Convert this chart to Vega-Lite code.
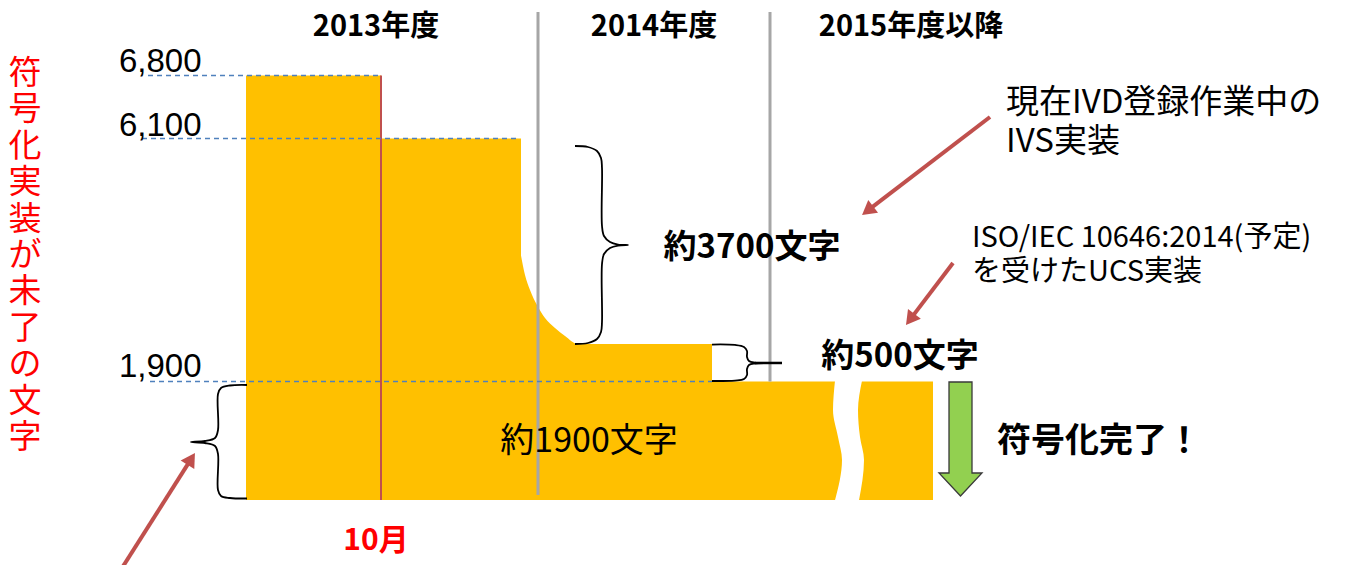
{
  "$schema": "https://vega.github.io/schema/vega-lite/v6.json",
  "width": 1362,
  "height": 565,
  "autosize": {"type": "none"},
  "padding": 0,
  "background": "white",
  "config": {"view": {"stroke": null}},
  "encoding": {
    "x": {"field": "x", "type": "quantitative", "scale": {"domain": [0, 1362], "range": [0, 1362], "nice": false, "zero": false}, "axis": null},
    "y": {"field": "v", "type": "quantitative", "scale": {"domain": [0, 1900, 2400, 6100, 6800], "range": [500, 381.5, 344, 138.5, 75.5], "nice": false, "zero": false}, "axis": null}
  },
  "layer": [
    {
      "data": {"values": [
        {"x": 246, "x2": 381, "v": 6800},
        {"x": 380, "x2": 521, "v": 6100},
        {"x": 711, "x2": 933, "v": 1900}
      ]},
      "mark": {"type": "rect", "color": "#FFC000"},
      "encoding": {"x2": {"field": "x2"}, "y2": {"datum": 0}}
    },
    {
      "data": {"values": [
        {"x": 520, "v": 4092},
        {"x": 525, "v": 3642},
        {"x": 530, "v": 3372},
        {"x": 537, "v": 3102},
        {"x": 545, "v": 2868},
        {"x": 555, "v": 2688},
        {"x": 565, "v": 2544},
        {"x": 578, "v": 2400},
        {"x": 712, "v": 2400}
      ]},
      "mark": {"type": "area", "color": "#FFC000", "interpolate": "monotone"},
      "encoding": {"y2": {"datum": 0}}
    },
    {
      "data": {"values": [
        {"v": 1910, "x": 835, "x2": 862},
        {"v": 1443, "x": 833, "x2": 858},
        {"v": 1010, "x": 838, "x2": 860},
        {"v": 641, "x": 842, "x2": 864},
        {"v": -5, "x": 835, "x2": 859}
      ]},
      "mark": {"type": "area", "orient": "horizontal", "interpolate": "monotone", "color": "white"},
      "encoding": {"x2": {"field": "x2"}}
    },
    {
      "data": {"values": [{"x": 381, "x2": 381, "v": 6800, "v2": 0}]},
      "mark": {"type": "rule", "color": "#C0504D", "strokeWidth": 2},
      "encoding": {"x2": {"field": "x2"}, "y2": {"field": "v2"}}
    },
    {
      "data": {"values": [
        {"x": 538, "x2": 538, "v": 7506, "v2": 80},
        {"x": 770, "x2": 770, "v": 7506, "v2": 1900}
      ]},
      "mark": {"type": "rule", "color": "#A6A6A6", "strokeWidth": 3},
      "encoding": {"x2": {"field": "x2"}, "y2": {"field": "v2"}}
    },
    {
      "data": {"values": [
        {"x": 148, "x2": 381, "v": 6800, "v2": 6800},
        {"x": 142, "x2": 520, "v": 6100, "v2": 6100},
        {"x": 150, "x2": 712, "v": 1900, "v2": 1900}
      ]},
      "mark": {"type": "rule", "color": "#4F81BD", "strokeWidth": 1.6, "strokeDash": [5, 4]},
      "encoding": {"x2": {"field": "x2"}, "y2": {"field": "v2"}}
    },
    {
      "data": {"values": [
        {"b": "big", "i": 1, "x": 575, "v": 5965},
        {"b": "big", "i": 2, "x": 588, "v": 5947},
        {"b": "big", "i": 3, "x": 597, "v": 5875},
        {"b": "big", "i": 4, "x": 601, "v": 5749},
        {"b": "big", "i": 5, "x": 602, "v": 5569},
        {"b": "big", "i": 6, "x": 602, "v": 4525},
        {"b": "big", "i": 7, "x": 604, "v": 4345},
        {"b": "big", "i": 8, "x": 610, "v": 4237},
        {"b": "big", "i": 9, "x": 618, "v": 4191},
        {"b": "big", "i": 10, "x": 628, "v": 4182},
        {"b": "big", "i": 11, "x": 618, "v": 4173},
        {"b": "big", "i": 12, "x": 610, "v": 4128},
        {"b": "big", "i": 13, "x": 604, "v": 4020},
        {"b": "big", "i": 14, "x": 602, "v": 3840},
        {"b": "big", "i": 15, "x": 602, "v": 2796},
        {"b": "big", "i": 16, "x": 601, "v": 2616},
        {"b": "big", "i": 17, "x": 597, "v": 2490},
        {"b": "big", "i": 18, "x": 588, "v": 2418},
        {"b": "big", "i": 19, "x": 575, "v": 2400},
        {"b": "small", "i": 1, "x": 712, "v": 2393},
        {"b": "small", "i": 2, "x": 735, "v": 2387},
        {"b": "small", "i": 3, "x": 744, "v": 2360},
        {"b": "small", "i": 4, "x": 747, "v": 2307},
        {"b": "small", "i": 5, "x": 747, "v": 2227},
        {"b": "small", "i": 6, "x": 749, "v": 2173},
        {"b": "small", "i": 7, "x": 755, "v": 2153},
        {"b": "small", "i": 8, "x": 770, "v": 2147},
        {"b": "small", "i": 9, "x": 755, "v": 2140},
        {"b": "small", "i": 10, "x": 749, "v": 2120},
        {"b": "small", "i": 11, "x": 747, "v": 2067},
        {"b": "small", "i": 12, "x": 747, "v": 1987},
        {"b": "small", "i": 13, "x": 744, "v": 1933},
        {"b": "small", "i": 14, "x": 735, "v": 1913},
        {"b": "small", "i": 15, "x": 712, "v": 1907},
        {"b": "left", "i": 1, "x": 247, "v": 1844},
        {"b": "left", "i": 2, "x": 230, "v": 1836},
        {"b": "left", "i": 3, "x": 221, "v": 1796},
        {"b": "left", "i": 4, "x": 218, "v": 1700},
        {"b": "left", "i": 5, "x": 218, "v": 1122},
        {"b": "left", "i": 6, "x": 215, "v": 994},
        {"b": "left", "i": 7, "x": 205, "v": 946},
        {"b": "left", "i": 8, "x": 191, "v": 930},
        {"b": "left", "i": 9, "x": 205, "v": 914},
        {"b": "left", "i": 10, "x": 215, "v": 866},
        {"b": "left", "i": 11, "x": 218, "v": 738},
        {"b": "left", "i": 12, "x": 218, "v": 160},
        {"b": "left", "i": 13, "x": 221, "v": 64},
        {"b": "left", "i": 14, "x": 230, "v": 32},
        {"b": "left", "i": 15, "x": 247, "v": 24}
      ]},
      "mark": {"type": "line", "color": "#000000", "strokeWidth": 1.8, "interpolate": "catmull-rom"},
      "encoding": {"detail": {"field": "b"}, "order": {"field": "i", "type": "quantitative"}}
    },
    {
      "data": {"values": [{"x": 755, "x2": 782, "v": 2147, "v2": 2147}]},
      "mark": {"type": "rule", "color": "#000000", "strokeWidth": 2.5},
      "encoding": {"x2": {"field": "x2"}, "y2": {"field": "v2"}}
    },
    {
      "data": {"values": [
        {"x": 990, "x2": 867.6, "v": 6339, "v2": 4800},
        {"x": 953, "x2": 910.2, "v": 3858, "v2": 2843},
        {"x": 122, "x2": 191.2, "v": -1090, "v2": 659}
      ]},
      "mark": {"type": "rule", "color": "#C0504D", "strokeWidth": 4},
      "encoding": {"x2": {"field": "x2"}, "y2": {"field": "v2"}}
    },
    {
      "data": {"values": [{"x": 867.6, "v": 4800}]},
      "mark": {"type": "point", "shape": "triangle-up", "angle": 232.6, "size": 260, "filled": true, "color": "#C0504D", "opacity": 1}
    },
    {
      "data": {"values": [{"x": 910.2, "v": 2843}]},
      "mark": {"type": "point", "shape": "triangle-up", "angle": 217.2, "size": 260, "filled": true, "color": "#C0504D", "opacity": 1}
    },
    {
      "data": {"values": [{"x": 191.2, "v": 659}]},
      "mark": {"type": "point", "shape": "triangle-up", "angle": 32.4, "size": 260, "filled": true, "color": "#C0504D", "opacity": 1}
    },
    {
      "data": {"values": [{"x": 960.5, "v": 978}]},
      "mark": {"type": "point", "shape": "M-0.535,-2.651L0.535,-2.651L0.535,1.581L1,1.581L0,2.651L-1,1.581L-0.535,1.581Z", "size": 1849, "filled": true, "fill": "#92D050", "stroke": "#3a3a3a", "strokeWidth": 1.3, "opacity": 1}
    },
    {
      "data": {"values": [
        {"x": 119, "v": 6839, "t": "6,800"},
        {"x": 119, "v": 6128, "t": "6,100"},
        {"x": 119, "v": 1960, "t": "1,900"}
      ]},
      "mark": {"type": "text", "font": "Liberation Sans", "fontSize": 33, "color": "#000000", "align": "left", "baseline": "alphabetic"},
      "encoding": {"text": {"field": "t"}}
    },
    {
      "data": {"values": [
        {"x": 376, "v": 7339, "t": "2013年度"},
        {"x": 654, "v": 7339, "t": "2014年度"},
        {"x": 911, "v": 7339, "t": "2015年度以降"}
      ]},
      "mark": {"type": "text", "font": "Noto Sans CJK JP", "fontSize": 29, "fontWeight": "bold", "color": "#000000", "align": "center", "baseline": "middle"},
      "encoding": {"text": {"field": "t"}}
    },
    {
      "data": {"values": [
        {"x": 752, "v": 4128, "t": "約3700文字"},
        {"x": 900, "v": 2227, "t": "約500文字"}
      ]},
      "mark": {"type": "text", "font": "Noto Sans CJK JP", "fontSize": 33, "fontWeight": "bold", "color": "#000000", "align": "center", "baseline": "middle"},
      "encoding": {"text": {"field": "t"}}
    },
    {
      "data": {"values": [{"x": 589, "v": 930, "t": "約1900文字"}]},
      "mark": {"type": "text", "font": "Noto Sans CJK JP", "fontSize": 34, "color": "#000000", "align": "center", "baseline": "middle"},
      "encoding": {"text": {"field": "t"}}
    },
    {
      "data": {"values": [{"x": 1099, "v": 930, "t": "符号化完了！"}]},
      "mark": {"type": "text", "font": "Noto Sans CJK JP", "fontSize": 34, "fontWeight": "bold", "color": "#000000", "align": "center", "baseline": "middle"},
      "encoding": {"text": {"field": "t"}}
    },
    {
      "data": {"values": [{"x": 376, "v": -657, "t": "10月"}]},
      "mark": {"type": "text", "font": "Noto Sans CJK JP", "fontSize": 30, "fontWeight": "bold", "color": "#FF0000", "align": "center", "baseline": "middle"},
      "encoding": {"text": {"field": "t"}}
    },
    {
      "data": {"values": [
        {"x": 1006, "v": 6494, "t": "現在IVD登録作業中の"},
        {"x": 1006, "v": 6037, "t": "IVS実装"}
      ]},
      "mark": {"type": "text", "font": "Noto Sans CJK JP", "fontSize": 33, "color": "#000000", "align": "left", "baseline": "middle"},
      "encoding": {"text": {"field": "t"}}
    },
    {
      "data": {"values": [
        {"x": 972, "v": 4309, "t": "ISO/IEC 10646:2014(予定)"},
        {"x": 972, "v": 3696, "t": "を受けたUCS実装"}
      ]},
      "mark": {"type": "text", "font": "Noto Sans CJK JP", "fontSize": 29, "color": "#000000", "align": "left", "baseline": "middle"},
      "encoding": {"text": {"field": "t"}}
    },
    {
      "data": {"values": [{"x": 25, "v": 6994, "t": "符\n号\n化\n実\n装\nが\n未\n了\nの\n文\n字"}]},
      "mark": {"type": "text", "lineBreak": "\n", "lineHeight": 36.4, "font": "Noto Sans CJK JP", "fontSize": 33, "color": "#FF0000", "align": "center", "baseline": "top"},
      "encoding": {"text": {"field": "t"}}
    }
  ]
}
